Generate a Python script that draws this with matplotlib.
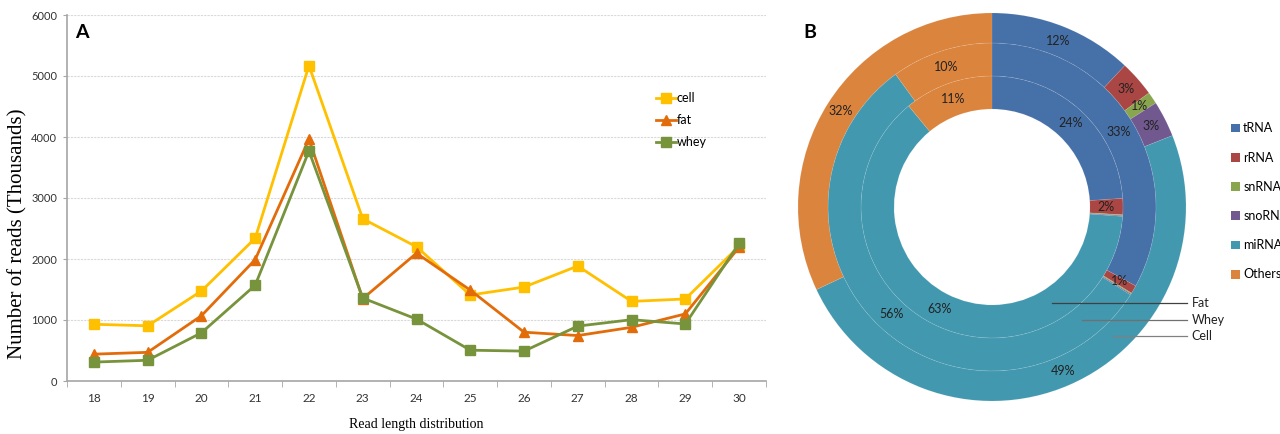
import numpy as np
import matplotlib.pyplot as plt
from matplotlib.patches import Patch

# 패널 A: 길이별 read 수 (천 단위)
lengths = [18, 19, 20, 21, 22, 23, 24, 25, 26, 27, 28, 29, 30]
cell = [930, 905, 1475, 2340, 5170, 2660, 2200, 1410, 1540, 1885, 1305, 1345, 2210]
fat = [440, 470, 1070, 1990, 3965, 1350, 2095, 1490, 800, 745, 880, 1100, 2195]
whey = [310, 340, 790, 1570, 3770, 1360, 1015, 505, 490, 900, 1005, 935, 2255]
y_ticks = [0, 1000, 2000, 3000, 4000, 5000, 6000]

# 패널 B: RNA 종류별 비율 (%)
rna_types = ['tRNA', 'rRNA', 'snRNA', 'snoRNA', 'miRNA', 'Others']
cell_pct = [12, 3, 1, 3, 49, 32]
whey_pct = [33, 0.8, 0.1, 0.1, 56, 10]
fat_pct = [24, 2, 0.1, 0.1, 63, 11]

rna_colors = ['#4670A8', '#AA4643', '#89A54E', '#71588F', '#4298AF', '#DB843D']

plt.rcParams['font.family'] = ['Lato', 'DejaVu Sans']

fig = plt.figure(figsize=(12.8, 4.34), dpi=100)

# ---- A ----
ax = fig.add_axes([67 / 1280, 1 - 381 / 434, 699 / 1280, 366 / 434])
ax.plot(lengths, cell, '-s', color='#FFC000', lw=2, ms=6.5, label='cell')
ax.plot(lengths, fat, '-^', color='#E36C0A', lw=2, ms=6.5, label='fat')
ax.plot(lengths, whey, '-s', color='#77933C', lw=2, ms=6.5, label='whey')

ax.set_xlim(17.5, 30.5)
ax.set_ylim(0, 6000)
ax.set_xticks(lengths)
ax.set_xticks(np.arange(17.5, 31, 1), minor=True)
ax.set_yticks(y_ticks)
ax.tick_params(axis='x', which='major', length=0, pad=9, labelsize=8.5, labelcolor='#333333')
ax.tick_params(axis='x', which='minor', length=4, color='#a6a6a6')
ax.tick_params(axis='y', length=3, color='#a6a6a6', pad=4, labelsize=8, labelcolor='#333333')
ax.grid(axis='y', ls=(0, (2, 1)), color='#d9d9d9', lw=0.8)
ax.set_axisbelow(True)
for s in ['top', 'right']:
    ax.spines[s].set_visible(False)
for s in ['left', 'bottom']:
    ax.spines[s].set_color('#a6a6a6')
    ax.spines[s].set_linewidth(1.2)

ax.set_ylabel('Number of reads (Thousands)', family='Liberation Serif', fontsize=15)
ax.yaxis.set_label_coords(-0.057, 0.403)
ax.set_xlabel('Read length distribution', family='Liberation Serif', fontsize=10, labelpad=10)
ax.legend(loc='upper left', bbox_to_anchor=(0.826, 0.82), frameon=False, fontsize=9,
          handlelength=1.6, handletextpad=0.1, labelspacing=0.8)
fig.text(75 / 1280, 1 - 32 / 434, 'A', fontsize=14, fontweight='bold', va='center')

# ---- B ----
axp = fig.add_axes([(992 - 194) / 1280, (434 - 207 - 194) / 434, 388 / 1280, 388 / 434])
rings = [(cell_pct, 1.0, 0.155), (whey_pct, 0.845, 0.17), (fat_pct, 0.675, 0.17)]
for vals, r, w in rings:
    wedges, _ = axp.pie(vals, radius=r, colors=rna_colors, startangle=90, counterclock=False,
                        wedgeprops=dict(width=w, edgecolor='#ffffff18', linewidth=0.6))
    total = sum(vals)
    for wdg, v in zip(wedges, vals):
        if round(v) < 1:
            continue
        ang = np.deg2rad((wdg.theta1 + wdg.theta2) / 2)
        rr = r - w / 2
        axp.text(rr * np.cos(ang), rr * np.sin(ang), f'{round(v / total * 100):.0f}%',
                 ha='center', va='center', fontsize=9, color='#222222')
axp.set_xlim(-1, 1)
axp.set_ylim(-1, 1)
axp.set_aspect('equal')
axp.axis('off')

# 링 이름 표시선
for name, x0, y0, c in [('Fat', 0.309, -0.495, '#404040'),
                        ('Whey', 0.464, -0.582, '#707070'),
                        ('Cell', 0.624, -0.665, '#808080')]:
    axp.plot([x0, 1.005], [y0, y0], color=c, lw=0.9, clip_on=False)
    axp.text(1.03, y0, name, ha='left', va='center', fontsize=9, color='#222222', clip_on=False)

handles = [Patch(facecolor=c, edgecolor='none') for c in rna_colors]
fig.legend(handles, rna_types, loc='upper left', bbox_to_anchor=(1220 / 1280, 1 - 111 / 434),
           frameon=False, fontsize=9, handlelength=0.7, handleheight=0.7,
           handletextpad=0.25, labelspacing=1.38)
fig.text(803 / 1280, 1 - 32 / 434, 'B', fontsize=14, fontweight='bold', va='center')

fig.savefig('out.png', dpi=100)
